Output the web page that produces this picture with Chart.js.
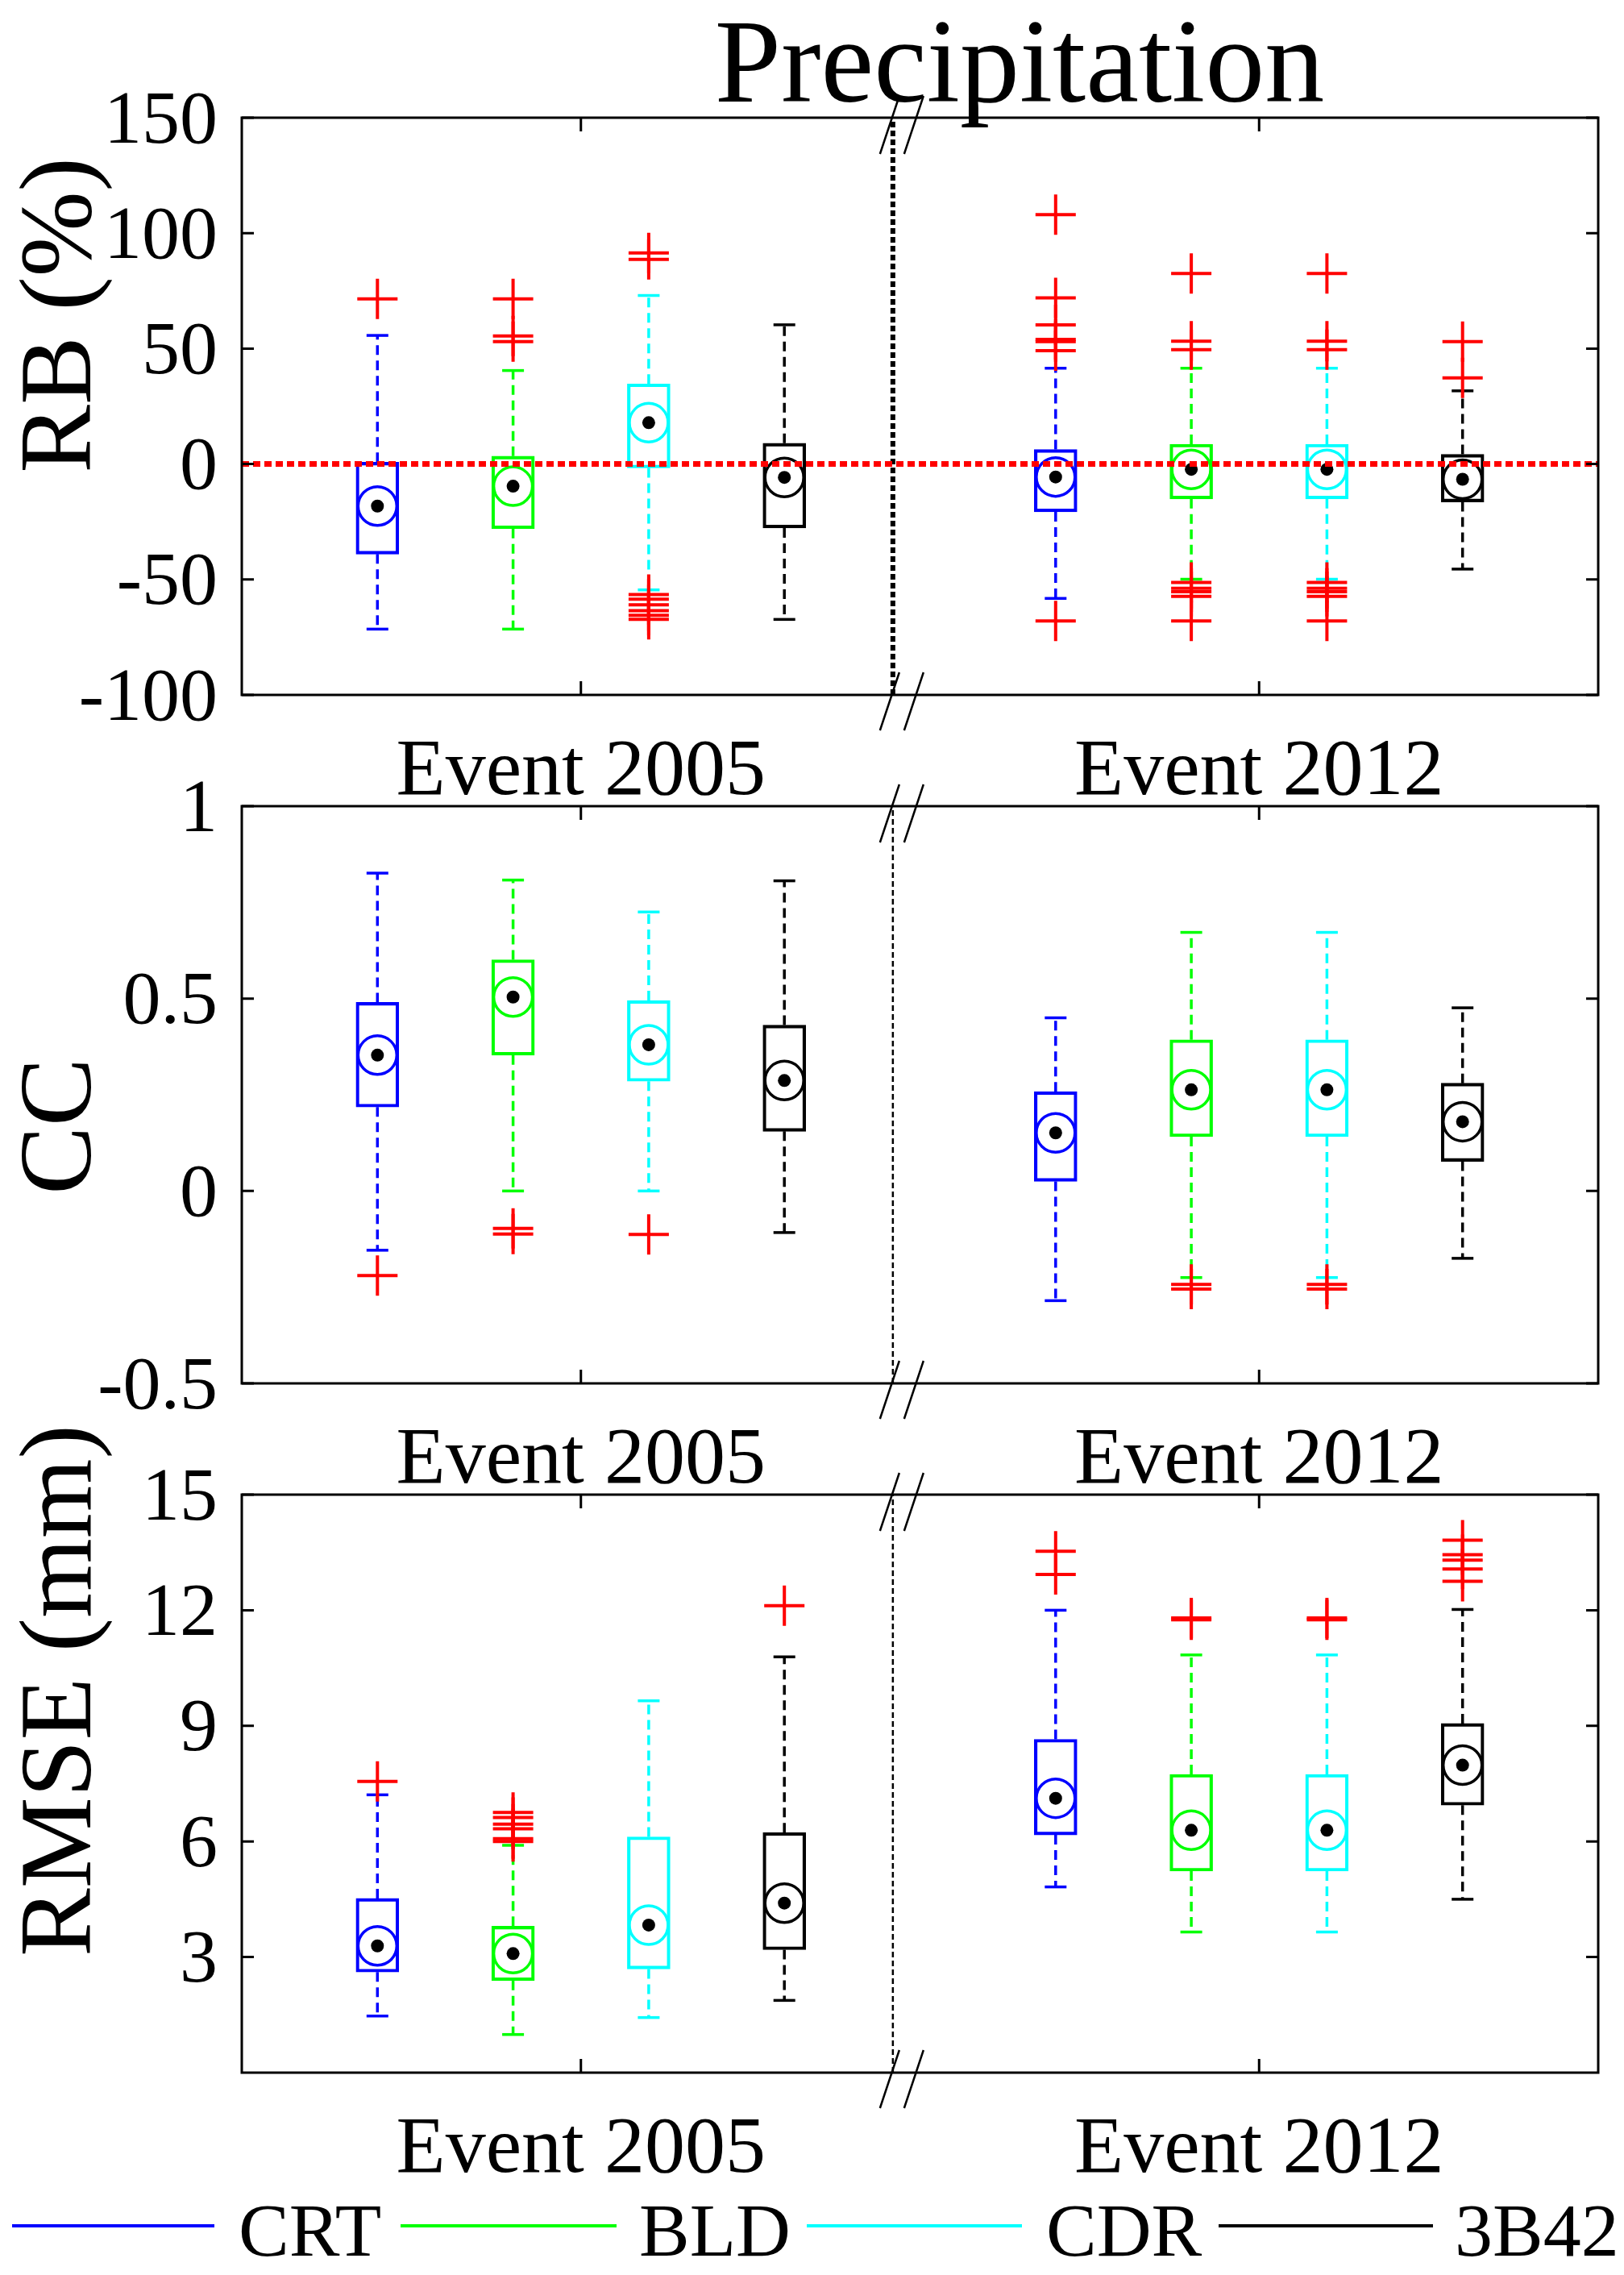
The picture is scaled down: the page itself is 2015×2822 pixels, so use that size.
<!DOCTYPE html>
<html>
<head>
<meta charset="utf-8">
<script src="https://cdn.jsdelivr.net/npm/chart.js@4.4.1/dist/chart.umd.min.js"></script>
<style>
html, body { margin: 0; padding: 0; background: #fff; }
body { width: 2015px; height: 2822px; position: relative; overflow: hidden; font-family: "Liberation Serif", serif; color: #000; }
canvas { position: absolute; left: 0; }
.txt { position: absolute; white-space: nowrap; line-height: 1; }
.ylab { position: absolute; white-space: nowrap; line-height: 1; font-size: 127px; transform: translate(-50%, -50%) rotate(-90deg); }
.lline { position: absolute; height: 4px; }
</style>
</head>
<body>
<div class="txt" style="font-size:148px; left:1265px; top:2px; transform:translateX(-50%);">Precipitation</div>
<div class="ylab" style="left:69px; top:391px;">RB (%)</div>
<div class="ylab" style="left:69px; top:1397px;">CC</div>
<div class="ylab" style="left:69px; top:2097px;">RMSE (mm)</div>

<canvas id="rbChart" width="2015" height="976" style="top:46px"></canvas>
<canvas id="ccChart" width="2015" height="976" style="top:900px"></canvas>
<canvas id="rmChart" width="2015" height="977" style="top:1754px"></canvas>

<div id="legend"></div>

<script>
const seriesNames = ['CRT', 'BLD', 'CDR', '3B42'];
const seriesColors = ['#0000ff', '#00ff00', '#00ffff', '#000000'];
const eventLabels = ['Event 2005', 'Event 2012'];
const eventTicks = [2.5, 7.5];
// box slot on the x axis for each series, per event
const boxSlots = [[1, 6], [2, 7], [3, 8], [4, 9]];
const breakAt = 4.8;

// each box: [lower whisker, q1, median, q3, upper whisker], one per event
const rbCRT = [[-71.5, -39, -18.2, 0.8, 55.7], [-58.2, -20.7, -5.6, 6.3, 41.5]];
const rbBLD = [[-71.5, -28, -9.6, 3.4, 40.5], [-49.9, -15.1, -2.3, 8.6, 41.5]];
const rbCDR = [[-54.5, -1.7, 17.9, 34.7, 73], [-49.9, -15.1, -2.3, 8.6, 41.5]];
const rb3B42 = [[-67.3, -27.7, -5.8, 9, 60.3], [-45.5, -16.4, -6.6, 4.2, 31.7]];
const rbOutCRT = [[71.5], [108, 72, 60.3, 54, 53, 49.1, -68]];
const rbOutBLD = [[71.5, 55.5, 53], [82.5, 53.2, 49.5, -51.3, -53.8, -55.3, -57.3, -68]];
const rbOutCDR = [[91.4, 88.6, -56.5, -58.5, -61, -63.5, -65.5, -67.3], [82.5, 53.2, 49.5, -51.3, -53.8, -55.3, -57.3, -68]];
const rbOut3B42 = [[], [53, 37.3]];
const rbTicks = [-100, -50, 0, 50, 100, 150];

const ccCRT = [[-0.154, 0.218, 0.353, 0.49, 0.826], [-0.285, 0.025, 0.151, 0.258, 0.45]];
const ccBLD = [[0, 0.353, 0.504, 0.601, 0.808], [-0.225, 0.141, 0.263, 0.393, 0.672]];
const ccCDR = [[0, 0.285, 0.38, 0.495, 0.725], [-0.225, 0.141, 0.263, 0.393, 0.672]];
const cc3B42 = [[-0.108, 0.155, 0.287, 0.431, 0.806], [-0.175, 0.077, 0.18, 0.28, 0.476]];
const ccOutCRT = [[-0.22], []];
const ccOutBLD = [[-0.097, -0.112], [-0.243, -0.255]];
const ccOutCDR = [[-0.113], [-0.243, -0.255]];
const ccOut3B42 = [[], []];
const ccTicks = [-0.5, 0, 0.5, 1];

const rmCRT = [[1.47, 2.61, 3.29, 4.52, 7.21], [4.82, 6.17, 7.12, 8.65, 12.0]];
const rmBLD = [[0.99, 2.39, 3.09, 3.8, 5.9], [3.65, 5.23, 6.29, 7.74, 10.84]];
const rmCDR = [[1.43, 2.69, 3.83, 6.12, 9.65], [3.65, 5.23, 6.29, 7.74, 10.84]];
const rm3B42 = [[1.875, 3.19, 4.4, 6.23, 10.79], [4.5, 6.94, 7.98, 9.06, 12.02]];
const rmOutCRT = [[7.56], [13.53, 12.93]];
const rmOutBLD = [[6.75, 6.62, 6.45, 6.33, 6.07, 6.0], [11.8, 11.75]];
const rmOutCDR = [[], [11.8, 11.75]];
const rmOut3B42 = [[12.12], [13.82, 13.44, 13.3, 13.07, 12.75]];
const rmTicks = [3, 6, 9, 12, 15];

function boxDatasets(stats, outs) {
    const ds = [];
    stats.forEach((st, s) => {
        const col = seriesColors[s];
        const xs = boxSlots[s];
        const whisk = [];
        st.forEach((b, e) => {
            whisk.push({x: xs[e], y: b[3]}, {x: xs[e], y: b[4]}, {x: xs[e], y: null},
                       {x: xs[e], y: b[1]}, {x: xs[e], y: b[0]}, {x: xs[e], y: null});
        });
        ds.push({
            type: 'line', data: whisk, borderColor: col, borderWidth: 3.5,
            borderDash: [12, 7], pointRadius: 0, spanGaps: false, order: 5
        });
        ds.push({
            type: 'scatter', data: st.flatMap((b, e) => [{x: xs[e], y: b[0]}, {x: xs[e], y: b[4]}]),
            pointStyle: 'line', pointRadius: 13.5, pointBorderWidth: 3.5, pointBorderColor: col, order: 4
        });
        ds.push({
            type: 'bar', data: st.map((b, e) => ({x: xs[e], y: [b[1], b[3]]})),
            borderColor: col, backgroundColor: 'rgba(0,0,0,0)', borderWidth: 3.5,
            borderSkipped: false, barThickness: 53, grouped: false, order: 4
        });
        ds.push({
            type: 'scatter', data: st.map((b, e) => ({x: xs[e], y: b[2]})),
            pointStyle: 'circle', pointRadius: 24, pointBorderWidth: 3.5,
            pointBorderColor: col, pointBackgroundColor: 'rgba(0,0,0,0)', order: 3
        });
        ds.push({
            type: 'scatter', data: st.map((b, e) => ({x: xs[e], y: b[2]})),
            pointStyle: 'circle', pointRadius: 8, pointBorderWidth: 0,
            pointBackgroundColor: '#000', order: 2
        });
        ds.push({
            type: 'scatter', data: outs[s].flatMap((vals, e) => vals.map(v => ({x: xs[e], y: v}))),
            pointStyle: 'cross', pointRadius: 25, pointBorderWidth: 4, pointBorderColor: '#ff0000', order: 1
        });
    });
    return ds;
}

// frame, inward ticks and the "//" axis break marks
const framePlugin = {
    id: 'frame',
    afterDatasetsDraw(chart) {
        const {ctx, chartArea: a, scales: {x, y}} = chart;
        ctx.save();
        ctx.strokeStyle = '#000';
        ctx.lineWidth = 3;
        ctx.setLineDash([]);
        ctx.strokeRect(a.left, a.top, a.right - a.left, a.bottom - a.top);
        ctx.beginPath();
        y.ticks.forEach(t => {
            const py = y.getPixelForValue(t.value);
            ctx.moveTo(a.left, py); ctx.lineTo(a.left + 15, py);
            ctx.moveTo(a.right, py); ctx.lineTo(a.right - 15, py);
        });
        x.ticks.forEach(t => {
            const px = x.getPixelForValue(t.value);
            ctx.moveTo(px, a.bottom); ctx.lineTo(px, a.bottom - 17);
            ctx.moveTo(px, a.top); ctx.lineTo(px, a.top + 17);
        });
        ctx.stroke();
        const bx = x.getPixelForValue(breakAt);
        ctx.lineWidth = 2.5;
        ctx.beginPath();
        [a.top + 9, a.bottom + 8].forEach(cy => {
            [-4, 26].forEach(dx => {
                ctx.moveTo(bx + dx - 12, cy + 36);
                ctx.lineTo(bx + dx + 12, cy - 36);
            });
        });
        ctx.stroke();
        ctx.restore();
    }
};

function makePanel(id, stats, outs, yMin, yMax, yTicks, extra) {
    const datasets = boxDatasets(stats, outs);
    datasets.push({
        type: 'line', data: [{x: breakAt, y: yMin}, {x: breakAt, y: yMax}],
        borderColor: '#000', borderWidth: extra.breakWidth, borderDash: extra.breakDash,
        pointRadius: 0, order: 6
    });
    if (extra.zeroLine) {
        datasets.push({
            type: 'line', data: [{x: 0, y: 0}, {x: 10, y: 0}],
            borderColor: '#ff0000', borderWidth: 7, borderDash: [9, 5], pointRadius: 0, order: 0
        });
    }
    return new Chart(document.getElementById(id), {
        type: 'scatter',
        data: {datasets},
        options: {
            responsive: false,
            animation: false,
            events: [],
            layout: {padding: {top: 100, right: 32, bottom: 0, left: 0}},
            plugins: {legend: {display: false}, tooltip: {enabled: false}},
            scales: {
                x: {
                    type: 'linear', min: 0, max: 10, offset: false,
                    grid: {display: false, drawTicks: false}, border: {display: false},
                    afterBuildTicks: s => { s.ticks = eventTicks.map(v => ({value: v})); },
                    afterFit: s => { s.height = 160; },
                    ticks: {
                        autoSkip: false, maxRotation: 0, padding: 37, color: '#000',
                        font: {family: 'Liberation Serif', size: 100},
                        callback: (v, i) => eventLabels[i]
                    }
                },
                y: {
                    type: 'linear', min: yMin, max: yMax,
                    grid: {display: false, drawTicks: false}, border: {display: false},
                    afterBuildTicks: s => { s.ticks = yTicks.map(v => ({value: v})); },
                    afterFit: s => { s.width = 300; },
                    ticks: {
                        padding: 30, labelOffset: 6, color: '#000',
                        font: {family: 'Liberation Serif', size: 94},
                        callback: v => String(v)
                    }
                }
            }
        },
        plugins: [framePlugin]
    });
}

makePanel('rbChart', [rbCRT, rbBLD, rbCDR, rb3B42], [rbOutCRT, rbOutBLD, rbOutCDR, rbOut3B42],
    -100, 150, rbTicks, {zeroLine: true, breakWidth: 6, breakDash: [7, 4]});
makePanel('ccChart', [ccCRT, ccBLD, ccCDR, cc3B42], [ccOutCRT, ccOutBLD, ccOutCDR, ccOut3B42],
    -0.5, 1, ccTicks, {zeroLine: false, breakWidth: 2.5, breakDash: [7, 4]});
makePanel('rmChart', [rmCRT, rmBLD, rmCDR, rm3B42], [rmOutCRT, rmOutBLD, rmOutCDR, rmOut3B42],
    0, 15, rmTicks, {zeroLine: false, breakWidth: 2.5, breakDash: [7, 4]});

// legend row under the panels
const legendLines = [[15, 266], [497, 765], [1001, 1268], [1512, 1778]];
const legendText = [296, 793, 1298, 1805];
const legend = document.getElementById('legend');
seriesNames.forEach((name, i) => {
    const line = document.createElement('div');
    line.className = 'lline';
    line.style.left = legendLines[i][0] + 'px';
    line.style.width = (legendLines[i][1] - legendLines[i][0]) + 'px';
    line.style.top = '2759px';
    line.style.background = seriesColors[i];
    legend.appendChild(line);
    const t = document.createElement('div');
    t.className = 'txt';
    t.style.fontSize = '94px';
    t.style.left = legendText[i] + 'px';
    t.style.top = '2719px';
    t.textContent = name;
    legend.appendChild(t);
});
</script>
</body>
</html>
